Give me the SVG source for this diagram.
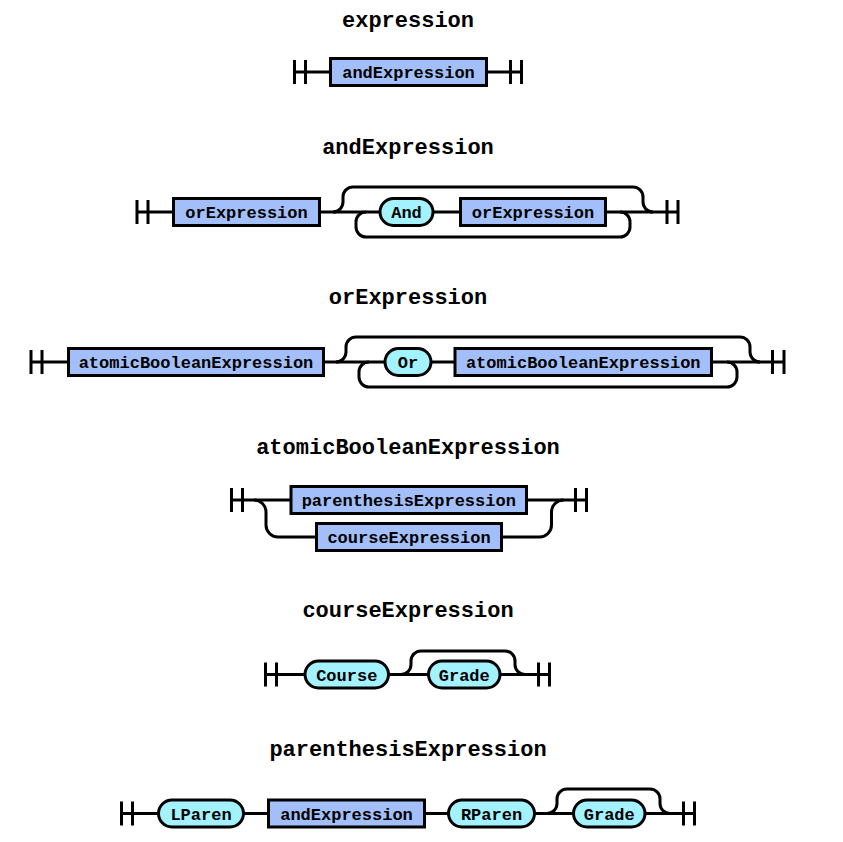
<svg xmlns="http://www.w3.org/2000/svg" width="843" height="842" viewBox="0 0 843 842">
<style>
.title{font-family:"Liberation Mono",monospace;font-weight:bold;font-size:22px;fill:#000;text-anchor:middle}
.lbl{font-family:"Liberation Mono",monospace;font-weight:bold;font-size:17px;fill:#000;text-anchor:middle}
.nt{fill:#a2bff9;stroke:#000;stroke-width:3}
.t{fill:#a2f2ff;stroke:#000;stroke-width:3}
.c path{fill:none;stroke:#000;stroke-width:3}
</style>
<rect width="843" height="842" fill="#fff"/>
<g id="titles">
<text class="title" x="408" y="27">expression</text>
<text class="title" x="408" y="154">andExpression</text>
<text class="title" x="408" y="304">orExpression</text>
<text class="title" x="408" y="454">atomicBooleanExpression</text>
<text class="title" x="408" y="617">courseExpression</text>
<text class="title" x="408" y="756">parenthesisExpression</text>
</g>
<g id="connectors" class="c">
<!-- row 1 -->
<path d="M294.5 60v24M305.5 60v24M294.5 72H330.5M486.5 72H521.5M510.5 60v24M521.5 60v24"/>
<!-- row 2 -->
<path d="M137 200v24M148 200v24M137 212H173.5M319.5 212H380M433 212H460.5M605.5 212H678M667 200v24M678 200v24"/>
<path d="M333 212a10 10 0 0 0 10 -10v-5a10 10 0 0 1 10 -10H633a10 10 0 0 1 10 10v5a10 10 0 0 0 10 10"/>
<path d="M366 212a10 10 0 0 0 -10 10v5a10 10 0 0 0 10 10H620a10 10 0 0 0 10 -10v-5a10 10 0 0 0 -10 -10"/>
<!-- row 3 -->
<path d="M31 350v24M42 350v24M31 362H68.5M323.5 362H385M431 362H455M711.5 362H784M772.5 350v24M784 350v24"/>
<path d="M336 362a10 10 0 0 0 10 -10v-5a10 10 0 0 1 10 -10H740a10 10 0 0 1 10 10v5a10 10 0 0 0 10 10"/>
<path d="M369 362a10 10 0 0 0 -10 10v5a10 10 0 0 0 10 10H727a10 10 0 0 0 10 -10v-5a10 10 0 0 0 -10 -10"/>
<!-- row 4 -->
<path d="M231.5 488v24M242.5 488v24M231.5 500H291M526.5 500H586.5M575.5 488v24M586.5 488v24"/>
<path d="M254 500a12 12 0 0 1 12 12v13a12 12 0 0 0 12 12H316.5M501.5 537H539.5a12 12 0 0 0 12 -12v-13a12 12 0 0 1 12 -12"/>
<!-- row 5 -->
<path d="M265.5 662.5v24M276.5 662.5v24M265.5 674.5H305M388.5 674.5H428.5M500 674.5H549.5M538.5 662.5v24M549.5 662.5v24"/>
<path d="M401 674.5a10 10 0 0 0 10 -10v-3.5a10 10 0 0 1 10 -10H505a10 10 0 0 1 10 10v3.5a10 10 0 0 0 10 10"/>
<!-- row 6 -->
<path d="M121.5 801.5v24M132.5 801.5v24M121.5 813.5H158.5M243.5 813.5H268.5M424.5 813.5H448.5M534.5 813.5H573.5M645 813.5H694.5M683.5 801.5v24M694.5 801.5v24"/>
<path d="M547 813.5a10 10 0 0 0 10 -10v-4.5a10 10 0 0 1 10 -10H650a10 10 0 0 1 10 10v4.5a10 10 0 0 0 10 10"/>
</g>
<g id="expr-andExpression"><rect class="nt" x="330.5" y="58.5" width="156" height="27"/><text class="lbl" x="408.5" y="78">andExpression</text></g>
<g id="and-orExpression1"><rect class="nt" x="173.5" y="198.5" width="146" height="27"/><text class="lbl" x="246.5" y="218">orExpression</text></g>
<g id="and-And"><rect class="t" x="380" y="198.5" width="53" height="27" rx="13.5"/><text class="lbl" x="406.5" y="218">And</text></g>
<g id="and-orExpression2"><rect class="nt" x="460.5" y="198.5" width="145" height="27"/><text class="lbl" x="533" y="218">orExpression</text></g>
<g id="or-atomic1"><rect class="nt" x="68.5" y="348.5" width="255" height="27"/><text class="lbl" x="196" y="368">atomicBooleanExpression</text></g>
<g id="or-Or"><rect class="t" x="385" y="348.5" width="46" height="27" rx="13.5"/><text class="lbl" x="408" y="368">Or</text></g>
<g id="or-atomic2"><rect class="nt" x="455" y="348.5" width="256.5" height="27"/><text class="lbl" x="583.25" y="368">atomicBooleanExpression</text></g>
<g id="atomic-parenthesisExpression"><rect class="nt" x="291" y="486.5" width="235.5" height="27"/><text class="lbl" x="408.75" y="506">parenthesisExpression</text></g>
<g id="atomic-courseExpression"><rect class="nt" x="316.5" y="523.5" width="185" height="27"/><text class="lbl" x="409" y="543">courseExpression</text></g>
<g id="course-Course"><rect class="t" x="305" y="661" width="83.5" height="27" rx="13.5"/><text class="lbl" x="346.75" y="680.5">Course</text></g>
<g id="course-Grade"><rect class="t" x="428.5" y="661" width="71.5" height="27" rx="13.5"/><text class="lbl" x="464.25" y="680.5">Grade</text></g>
<g id="paren-LParen"><rect class="t" x="158.5" y="800" width="85" height="27" rx="13.5"/><text class="lbl" x="201" y="819.5">LParen</text></g>
<g id="paren-andExpression"><rect class="nt" x="268.5" y="800" width="156" height="27"/><text class="lbl" x="346.5" y="819.5">andExpression</text></g>
<g id="paren-RParen"><rect class="t" x="448.5" y="800" width="86" height="27" rx="13.5"/><text class="lbl" x="491.5" y="819.5">RParen</text></g>
<g id="paren-Grade"><rect class="t" x="573.5" y="800" width="71.5" height="27" rx="13.5"/><text class="lbl" x="609.25" y="819.5">Grade</text></g>
</svg>
